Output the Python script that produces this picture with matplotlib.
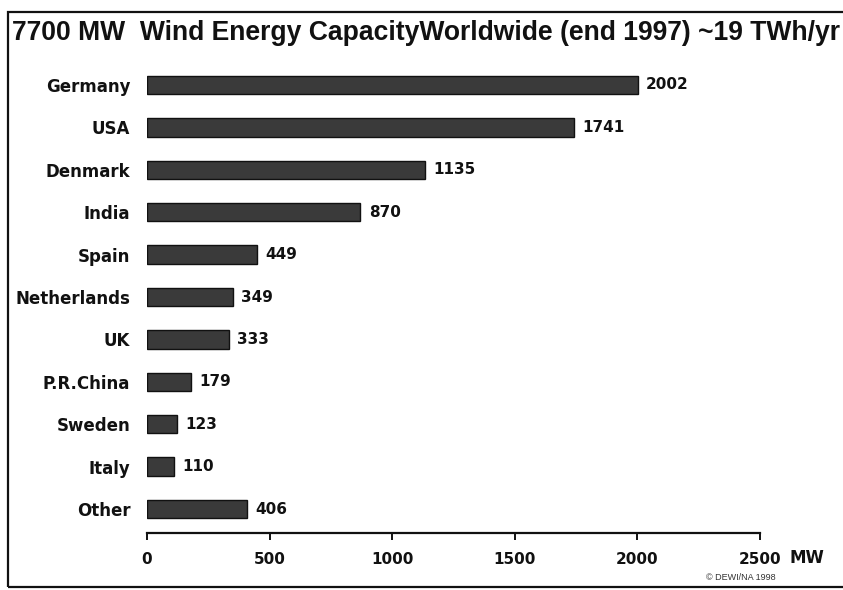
import matplotlib
matplotlib.use("Agg")
import matplotlib.pyplot as plt
from matplotlib.patches import Rectangle

countries = ["Germany", "USA", "Denmark", "India", "Spain", "Netherlands",
             "UK", "P.R.China", "Sweden", "Italy", "Other"]
capacity_mw = [2002, 1741, 1135, 870, 449, 349, 333, 179, 123, 110, 406]
x_ticks = [0, 500, 1000, 1500, 2000, 2500]

title = "7700 MW  Wind Energy CapacityWorldwide (end 1997) ~19 TWh/yr"
unit = "MW"
credit = "© DEWI/NA 1998"

plt.rcParams["font.family"] = ["Liberation Sans Narrow", "Liberation Sans", "DejaVu Sans"]

fig = plt.figure(figsize=(8.43, 5.90), dpi=100)
fig.patch.set_facecolor("white")

# frame around the slide
frame = Rectangle((8 / 843, 3 / 590), 1.2, (578 - 3) / 590,
                  transform=fig.transFigure, fill=False, edgecolor="#111111",
                  linewidth=1.6, clip_on=False)
fig.patches.append(frame)

fig.text(12 / 843, 1 - 33 / 590, title, fontsize=19.1, fontweight="bold",
         ha="left", va="center", color="#111111")

ax = fig.add_axes([147 / 843, 57 / 590, (760 - 147) / 843, (529 - 57) / 590])
y = list(range(len(countries)))
ax.barh(y, capacity_mw, height=0.43, color="#3a3a3a", edgecolor="#111111",
        linewidth=1.0)
for yi, v in zip(y, capacity_mw):
    ax.annotate(str(v), (v, yi), xytext=(6, 0), textcoords="offset points",
                ha="left", va="center", fontsize=11, fontweight="bold",
                family=["DejaVu Sans"], color="#111111")

ax.set_xlim(0, 2500)
ax.set_ylim(len(countries) - 1 + 0.566, -0.566)
ax.set_yticks(y)
ax.set_yticklabels(countries, fontsize=12, fontweight="bold",
                   family=["DejaVu Sans"], color="#111111")
ax.tick_params(axis="y", length=0, pad=12)
ax.set_xticks(x_ticks)
ax.set_xticklabels([str(t) for t in x_ticks], fontsize=11, fontweight="bold",
                   family=["DejaVu Sans"], color="#111111")
ax.tick_params(axis="x", length=5, width=1.4, pad=9, color="#111111")
for side in ["top", "right", "left"]:
    ax.spines[side].set_visible(False)
ax.spines["bottom"].set_linewidth(1.6)
ax.spines["bottom"].set_color("#111111")

ax.annotate(unit, (2500, 0), xycoords=("data", "axes fraction"),
            xytext=(21, -18), textcoords="offset points", ha="left", va="center",
            fontsize=12, fontweight="bold", family=["DejaVu Sans"], color="#111111")
fig.text(741 / 843, 1 - 578 / 590, credit, fontsize=6.5, ha="center", va="center",
         color="#333333")

fig.savefig("out.png", dpi=100)
